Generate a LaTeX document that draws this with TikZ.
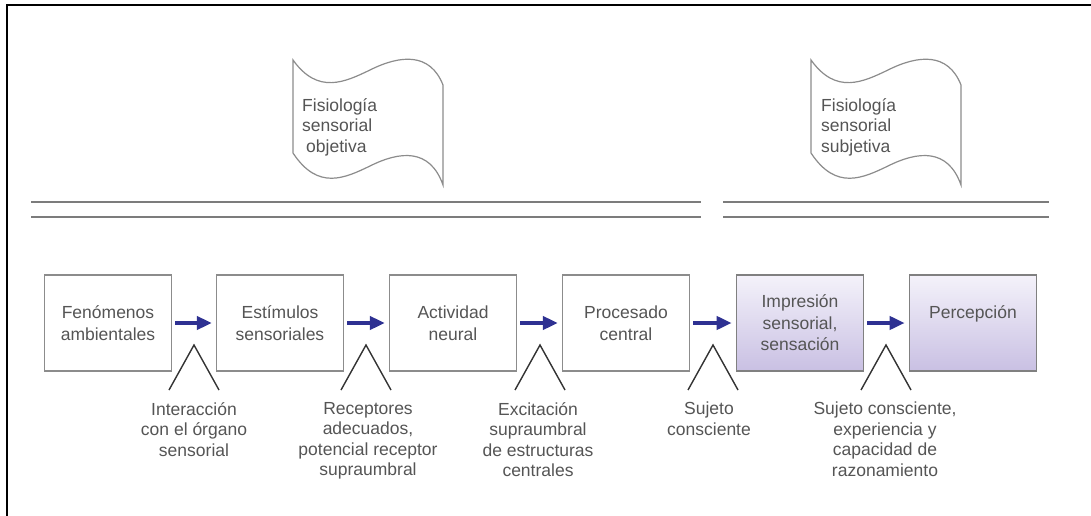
\documentclass[tikz,border=0pt]{standalone}
\usepackage{fontspec}
\setmainfont{Liberation Sans}
\usepackage{tikz}
\usetikzlibrary{arrows.meta,calc}
\definecolor{gristexto}{HTML}{555555}
\definecolor{grisborde}{HTML}{8C8C8C}
\definecolor{grislinea}{HTML}{7C7C7C}
\definecolor{azulflecha}{HTML}{2E3192}
\definecolor{lilaclaro}{HTML}{F4F2FA}
\definecolor{lila}{HTML}{C9C0E3}

\begin{document}
\begin{tikzpicture}[x=1pt,y=-1pt,
	caja/.style={draw=grisborde,line width=1.2pt,minimum width=127pt,minimum height=96pt,align=center,text=gristexto,font=\fontsize{17.5}{21.5}\selectfont},
	cajalila/.style={caja,draw=gray,line width=1.6pt,top color=lilaclaro,bottom color=lila},
	nota/.style={align=center,anchor=north,inner sep=0pt,text=gristexto,font=\fontsize{17.5}{20.5}\selectfont},
	flecha/.style={azulflecha,line width=4pt,-{Triangle[length=15pt,width=13pt]},shorten <=3pt,shorten >=4pt},
	pico/.style={draw=black!80,line width=1.4pt},
	bandera/.style={draw=grisborde,line width=1.2pt,fill=white},
	doble/.style={grislinea,line width=2.6pt}]
	\fill[white] (0,0) rectangle (1091,516);
	\useasboundingbox (0,0) rectangle (1091,516);
	\draw[line width=1.6pt] (7,516) -- (7,5) -- (1091,5);
	% banderas
	\foreach \dx in {0,518}
		\draw[bandera] (\dx+293,60) .. controls (\dx+318,95) and (\dx+345,82) .. (\dx+370,70) .. controls (\dx+400,55) and (\dx+430,52) .. (\dx+443,85) -- (\dx+443,185) .. controls (\dx+430,148) and (\dx+400,151) .. (\dx+370,166) .. controls (\dx+345,178) and (\dx+318,191) .. (\dx+293,153) -- cycle;
	\node[nota,anchor=west,align=left] (objetiva) at (302,127) {Fisiología\\sensorial\\\hspace{4pt}objetiva};
	\node[nota,anchor=west,align=left] (subjetiva) at (821,127) {Fisiología\\sensorial\\subjetiva};
	% lineas dobles
	\foreach \y in {202,217} {
		\draw[doble] (31,\y) -- (701,\y);
		\draw[doble] (723,\y) -- (1049,\y);
	}
	% cajas
	\node[caja] (fen) at (108,323) {Fenómenos\\ambientales};
	\node[caja] (est) at (280,323) {Estímulos\\sensoriales};
	\node[caja] (act) at (453,323) {Actividad\\neural};
	\node[caja] (proc) at (626,323) {Procesado\\central};
	\node[cajalila] (imp) at (800,323) {Impresión\\sensorial,\\sensación};
	\node[cajalila] (perc) at (973,323) {Percepción\\\mbox{}};
	\foreach \a/\b in {fen/est,est/act,act/proc,proc/imp,imp/perc}
		\draw[flecha] (\a.east) -- (\b.west);
	% picos y notas
	\foreach \x in {194,366,540,713,886}
		\draw[pico] (\x-25,390) -- (\x,345) -- (\x+25,390);
	\node[nota] (inter) at (194,402) {Interacción\\con el órgano\\sensorial};
	\node[nota] (recep) at (368,402) {Receptores\\adecuados,\\potencial receptor\\supraumbral};
	\node[nota] (excit) at (538,402) {Excitación\\supraumbral\\de estructuras\\centrales};
	\node[nota] (sujeto) at (709,402) {Sujeto\\consciente};
	\node[nota] (razon) at (885,402) {Sujeto consciente,\\experiencia y\\capacidad de\\razonamiento};
\end{tikzpicture}
\end{document}
